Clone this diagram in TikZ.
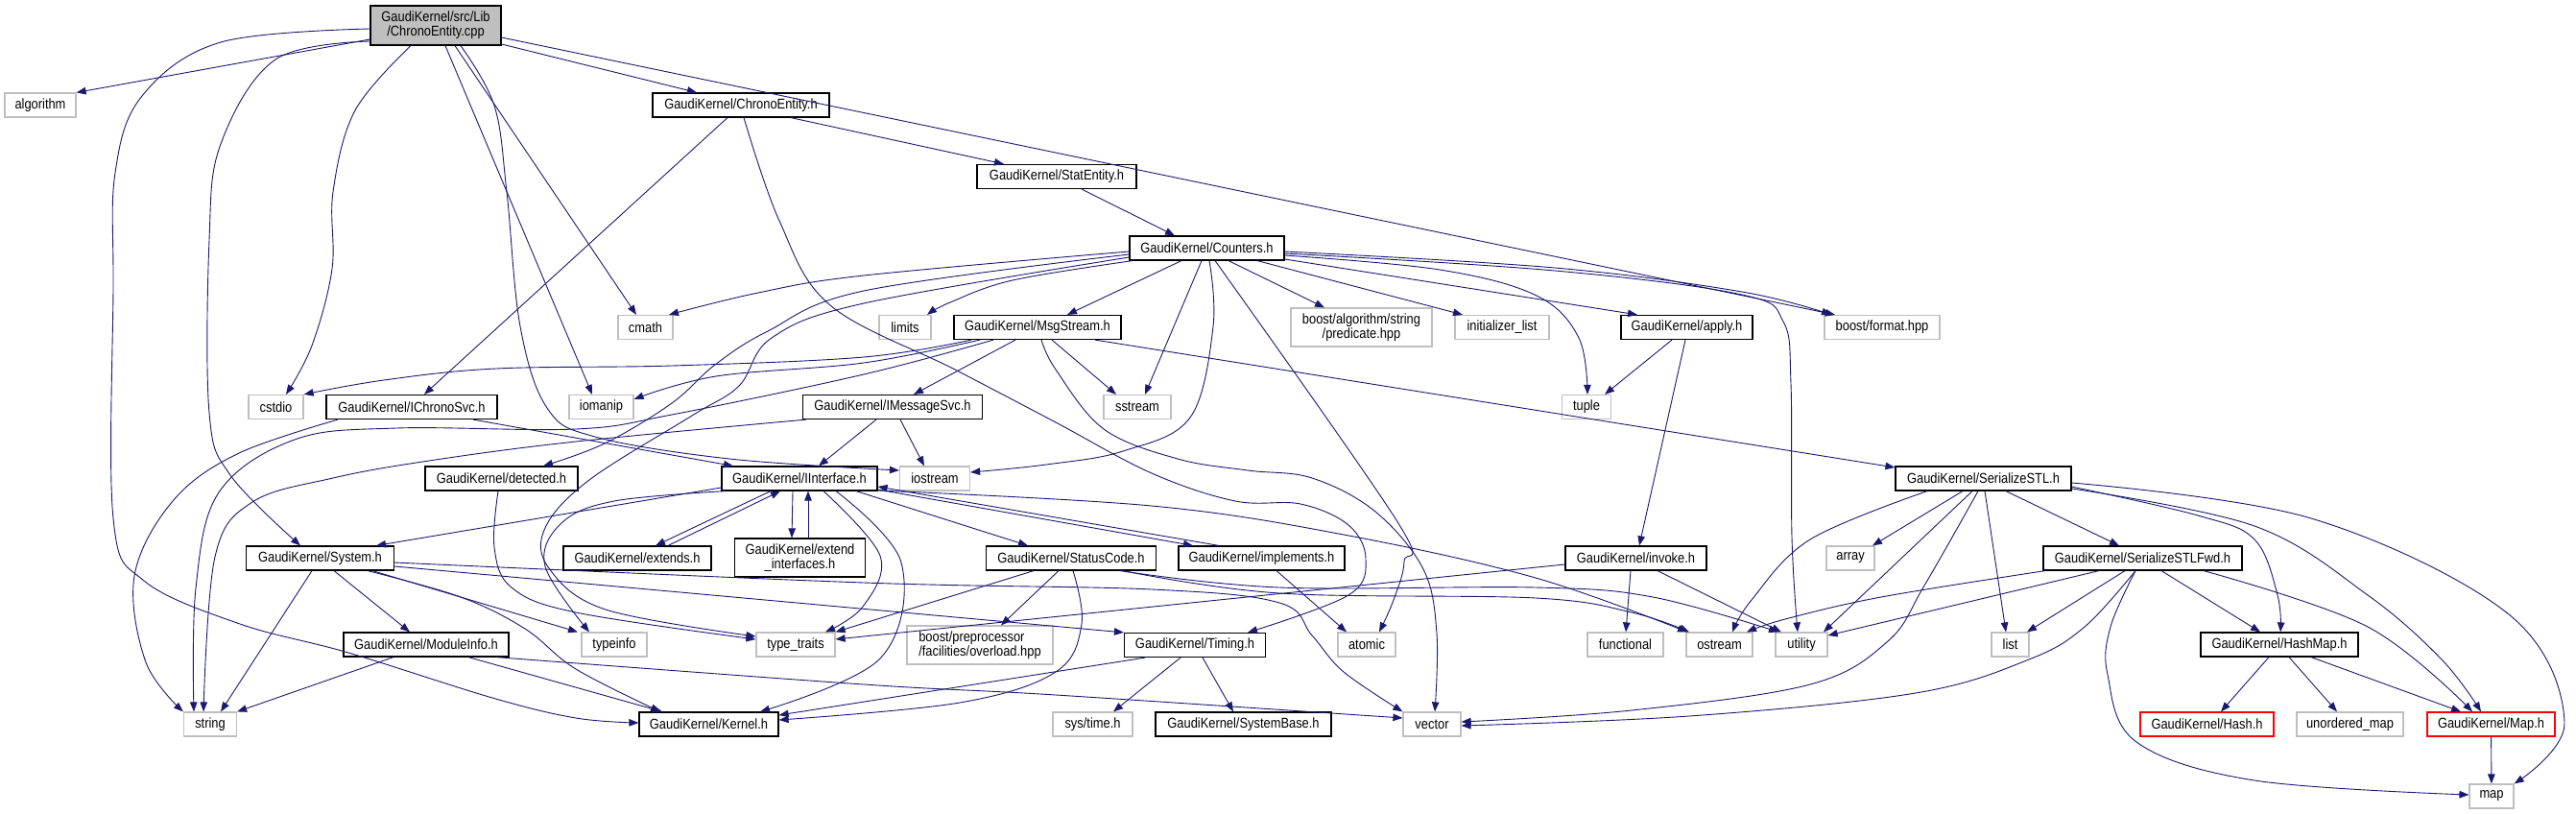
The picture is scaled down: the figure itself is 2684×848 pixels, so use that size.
\documentclass[tikz,border=0pt]{standalone}
\usepackage{fontspec}
\newfontfamily\gfont{Liberation Sans}[FakeStretch=0.87]
\usetikzlibrary{arrows.meta}
\definecolor{edgec}{HTML}{191970}
\definecolor{gbord}{HTML}{BFBFBF}
\begin{document}
\begin{tikzpicture}[x=1pt,y=-1pt,
  gbox/.style={draw=black, line width=1.2pt, fill=white, inner sep=0pt, minimum height=25pt, font=\gfont\fontsize{14.8}{14.7}\selectfont, align=center},
  sysbox/.style={gbox, draw=gbord},
  redbox/.style={gbox, draw=red},
  dep/.style={draw=edgec, line width=0.9pt, -{Triangle[length=10pt,width=7.5pt]}},
  sm/.style={smooth, tension=0.6}]
\useasboundingbox (0,0) rectangle (2684,848);
% nodes
\node[gbox, fill=gbord, minimum width=136pt, minimum height=41pt] (R) at (454,26.5) {GaudiKernel/src/Lib\\/ChronoEntity.cpp};
\node[sysbox, minimum width=74pt] (alg) at (42,109.5) {algorithm};
\node[gbox, minimum width=184pt] (CEh) at (772,109.5) {GaudiKernel/ChronoEntity.h};
\node[gbox, minimum width=166pt] (SE) at (1101,184) {GaudiKernel/StatEntity.h};
\node[gbox, minimum width=161pt] (CT) at (1257.5,258.5) {GaudiKernel/Counters.h};
\node[sysbox, minimum width=57pt] (cmath) at (672.5,341) {cmath};
\node[sysbox, minimum width=54pt] (limits) at (943,341) {limits};
\node[gbox, minimum width=174pt] (MS) at (1081,341) {GaudiKernel/MsgStream.h};
\node[sysbox, minimum width=147pt, minimum height=40pt] (pred) at (1418.5,341) {boost/algorithm/string\\/predicate.hpp};
\node[sysbox, minimum width=98pt] (ilist) at (1565,341) {initializer\_list};
\node[gbox, minimum width=137pt] (apply) at (1757.5,341) {GaudiKernel/apply.h};
\node[sysbox, minimum width=120pt] (fmt) at (1961,341) {boost/format.hpp};
\node[sysbox, minimum width=57pt] (cstdio) at (287.5,424) {cstdio};
\node[gbox, minimum width=178pt] (ICS) at (429,424) {GaudiKernel/IChronoSvc.h};
\node[sysbox, minimum width=67pt] (iomanip) at (626.5,424) {iomanip};
\node[gbox, minimum width=187pt] (IMS) at (930,424) {GaudiKernel/IMessageSvc.h};
\node[sysbox, minimum width=70pt] (sstream) at (1185,424) {sstream};
\node[sysbox, minimum width=51pt] (tuple) at (1653,424) {tuple};
\node[gbox, minimum width=159pt] (det) at (522.5,498.5) {GaudiKernel/detected.h};
\node[gbox, minimum width=162pt] (II) at (833,498.5) {GaudiKernel/IInterface.h};
\node[sysbox, minimum width=73pt] (iostream) at (974,498.5) {iostream};
\node[gbox, minimum width=183pt] (SSTL) at (2066.5,498.5) {GaudiKernel/SerializeSTL.h};
\node[gbox, minimum width=154pt] (Sys) at (333.5,581.5) {GaudiKernel/System.h};
\node[gbox, minimum width=154pt] (ext) at (664,581.5) {GaudiKernel/extends.h};
\node[gbox, minimum width=136pt, minimum height=40pt] (exti) at (833.5,581) {GaudiKernel/extend\\\_interfaces.h};
\node[gbox, minimum width=177pt] (SC) at (1116,581.5) {GaudiKernel/StatusCode.h};
\node[gbox, minimum width=173pt] (impl) at (1314.5,581.5) {GaudiKernel/implements.h};
\node[gbox, minimum width=147pt] (inv) at (1704.5,581.5) {GaudiKernel/invoke.h};
\node[sysbox, minimum width=50pt] (array) at (1928,581.5) {array};
\node[gbox, minimum width=207pt] (SSTLF) at (2232.5,581.5) {GaudiKernel/SerializeSTLFwd.h};
\node[gbox, minimum width=172pt] (MI) at (444,671.5) {GaudiKernel/ModuleInfo.h};
\node[sysbox, minimum width=68pt] (typeinfo) at (640,671.5) {typeinfo};
\node[sysbox, minimum width=82pt] (tt) at (829,671.5) {type\_traits};
\node[sysbox, minimum width=152pt, minimum height=40pt, align=left] (ovl) at (1021,672) {boost/preprocessor\\/facilities/overload.hpp};
\node[gbox, minimum width=147pt] (Tim) at (1245,672) {GaudiKernel/Timing.h};
\node[sysbox, minimum width=60pt] (atomic) at (1424,671.5) {atomic};
\node[sysbox, minimum width=79pt] (func) at (1693.5,671.5) {functional};
\node[sysbox, minimum width=69pt] (ostream) at (1791.5,671.5) {ostream};
\node[sysbox, minimum width=54pt] (utility) at (1877,671.5) {utility};
\node[sysbox, minimum width=39pt] (list) at (2094.5,671.5) {list};
\node[gbox, minimum width=164pt] (HM) at (2375,671.5) {GaudiKernel/HashMap.h};
\node[sysbox, minimum width=55pt] (string) at (219,754.5) {string};
\node[gbox, minimum width=145pt] (Kern) at (738.5,754.5) {GaudiKernel/Kernel.h};
\node[sysbox, minimum width=83pt] (systime) at (1138.5,754.5) {sys/time.h};
\node[gbox, minimum width=183pt] (SB) at (1295.5,754.5) {GaudiKernel/SystemBase.h};
\node[sysbox, minimum width=60pt] (vector) at (1492,754.5) {vector};
\node[redbox, minimum width=139pt] (Hash) at (2299.5,754.5) {GaudiKernel/Hash.h};
\node[sysbox, minimum width=111pt] (umap) at (2448.5,754.5) {unordered\_map};
\node[redbox, minimum width=133pt] (Map) at (2595.5,754.5) {GaudiKernel/Map.h};
\node[sysbox, minimum width=46pt] (map) at (2596,829.5) {map};
% edges from ChronoEntity.cpp
\draw[dep] (R.west |- 0,41) -- (alg.north east);
\draw[dep] plot[sm] coordinates {(R.west |- 0,30) (230,44) (148,100) (120,180) (118,300) (118,540) (150,605) (250,650) (363,680) (513,727) (600,748) (Kern.west |- 0,753)};
\draw[dep] plot[sm] coordinates {(R.west |- 0,43) (287,62) (230,150) (218,250) (218,430) (240,495) (Sys.north -| 313,0)};
\draw[dep] plot[sm] coordinates {(R.south -| 428,0) (370,115) (347,200) (346,280) (325,360) (cstdio.north -| 298,0)};
\draw[dep] (R.south -| 464,0) -- (iomanip.north -| 617,0);
\draw[dep] (R.south -| 474,0) -- (cmath.north -| 663,0);
\draw[dep] plot[sm] coordinates {(R.south -| 480,0) (515,110) (528,200) (542,340) (570,425) (620,455) (760,478) (iostream.west |- 0,490)};
\draw[dep] (R.east |- 0,46) -- (CEh.north -| 726,0);
\draw[dep] (R.east |- 0,39) -- (fmt.north -| 1912,0);
% ChronoEntity.h
\draw[dep] (CEh.south -| 824,0) -- (SE.north -| 1046,0);
\draw[dep] (CEh.south -| 758,0) -- (ICS.north -| 442,0);
\draw[dep] plot[sm] coordinates {(CEh.south -| 775,0) (812,230) (865,318) (995,385) (1100,440) (1200,493) (1287,522) (1355,525) (1405,547) (1423,582) (1405,620) (Tim.north -| 1300,0)};
% StatEntity
\draw[dep] (SE.south -| 1127,0) -- (CT.north -| 1224,0);
% Counters
\draw[dep] plot[sm] coordinates {(CT.west |- 0,262) (900,287) (790,305) (cmath.north -| 697,0)};
\draw[dep] plot[sm] coordinates {(CT.south -| 1180,0) (1055,292) (990,315) (limits.north -| 966,0)};
\draw[dep] (CT.south -| 1231,0) -- (MS.north -| 1112,0);
\draw[dep] (CT.south -| 1252,0) -- (sstream.north -| 1193,0);
\draw[dep] plot[sm] coordinates {(CT.south -| 1260,0) (1264,340) (1240,435) (1170,470) (1090,484) (iostream.east |- 0,492)};
\draw[dep] plot[sm] coordinates {(CT.south -| 1266,0) (1455,542) (1463,585) (1452,625) (atomic.north -| 1437,0)};
\draw[dep] (CT.south -| 1280,0) -- (pred.north -| 1380,0);
\draw[dep] (CT.south -| 1310,0) -- (ilist.north -| 1524,0);
\draw[dep] (CT.east |- 0,270) -- (apply.north -| 1706,0);
\draw[dep] plot[sm] coordinates {(CT.east |- 0,266) (1500,281) (1601,308) (1645,352) (tuple.north -| 1654,0)};
\draw[dep] plot[sm] coordinates {(CT.east |- 0,262) (1620,279) (1815,304) (fmt.north -| 1908,0)};
\draw[dep] plot[sm] coordinates {(CT.east |- 0,264) (1620,282) (1815,307) (1858,335) (1866,400) (1867,560) (utility.north -| 1873,0)};
\draw[dep] plot[sm] coordinates {(CT.west |- 0,265) (900,303) (800,345) (745,380) (700,420) (630,462) (det.north -| 566,0)};
\draw[dep] plot[sm] coordinates {(CT.west |- 0,268) (900,316) (804,352) (770,402) (721,433) (614,500) (568,550) (572,592) (631,635) (tt.west |- 0,663)};
% MsgStream
\draw[dep] plot[sm] coordinates {(MS.south -| 1012,0) (900,372) (700,381) (517,384) (400,396) (cstdio.north east)};
\draw[dep] plot[sm] coordinates {(MS.south -| 1021,0) (900,378) (746,392) (iomanip.east |- 0,416)};
\draw[dep] plot[sm] coordinates {(MS.south -| 1035,0) (900,390) (700,432) (600,447) (413,446) (307,458) (228,513) (204,613) (string.north -| 202,0)};
\draw[dep] (MS.south -| 1058,0) -- (IMS.north -| 952,0);
\draw[dep] plot[sm] coordinates {(MS.south -| 1085,0) (1100,385) (1150,447) (1227,478) (1300,490) (1367,498) (1433,533) (1483,593) (1497,660) (vector.north -| 1495,0)};
\draw[dep] (MS.south -| 1096,0) -- (sstream.north -| 1163,0);
\draw[dep] (MS.south -| 1141,0) -- (SSTL.west |- 0,487);
% IChronoSvc
\draw[dep] (ICS.south -| 493,0) -- (II.north -| 764,0);
\draw[dep] plot[sm] coordinates {(ICS.south -| 352,0) (247,473) (180,522) (140,600) (152,690) (string.north west)};
% IMessageSvc
\draw[dep] (IMS.south -| 913,0) -- (II.north -| 853,0);
\draw[dep] (IMS.south -| 938,0) -- (iostream.north -| 963,0);
\draw[dep] plot[sm] coordinates {(IMS.south -| 840,0) (600,460) (447,480) (347,498) (263,523) (224,580) (string.north -| 212,0)};
% detected
\draw[dep] plot[sm] coordinates {(det.south -| 519,0) (515,570) (533,612) (600,638) (tt.west |- 0,666)};
% IInterface
\draw[dep] (II.west |- 0,508) -- (Sys.north -| 392,0);
\draw[dep] plot[sm] coordinates {(II.south -| 756,0) (640,522) (585,545) (568,590) (typeinfo.north -| 614,0)};
\draw[dep] plot[sm] coordinates {(II.south -| 858,0) (917,579) (899,632) (tt.north -| 860,0)};
\draw[dep] plot[sm] coordinates {(II.south -| 871,0) (939,586) (917,686) (Kern.north -| 792,0)};
\draw[dep] (II.south -| 803,0) -- (ext.north -| 683,0);
\draw[dep] (ext.north -| 696,0) -- (II.south -| 813,0);
\draw[dep] (II.south -| 826,0) -- (exti.north -| 825,0);
\draw[dep] (exti.north -| 842,0) -- (II.south -| 842,0);
\draw[dep] (II.south -| 892,0) -- (SC.north -| 1071,0);
\draw[dep] (II.east |- 0,510) -- (impl.north -| 1243,0);
\draw[dep] (impl.north -| 1270,0) -- (II.east |- 0,507);
\draw[dep] plot[sm] coordinates {(II.east |- 0,511) (1200,527) (1400,557) (1600,602) (ostream.north -| 1758,0)};
% System
\draw[dep] (Sys.south -| 325,0) -- (string.north -| 230,0);
\draw[dep] (Sys.south -| 348,0) -- (MI.north -| 427,0);
\draw[dep] plot[sm] coordinates {(Sys.south -| 383,0) (480,622) (547,655) (600,697) (Kern.north -| 688,0)};
\draw[dep] (Sys.south -| 388,0) -- (typeinfo.north -| 602,0);
\draw[dep] (Sys.east |- 0,590) -- (Tim.north west);
\draw[dep] plot[sm] coordinates {(Sys.east |- 0,586) (900,607) (1200,614) (1333,628) (1367,662) (1400,700) (vector.north west)};
% ModuleInfo
\draw[dep] (MI.south -| 410,0) -- (string.north east);
\draw[dep] (MI.south -| 488,0) -- (Kern.north -| 690,0);
\draw[dep] plot[sm] coordinates {(MI.south -| 517,0) (900,713) (1100,724) (vector.west |- 0,748)};
% StatusCode
\draw[dep] (SC.south -| 1077,0) -- (tt.north east);
\draw[dep] (SC.south -| 1103,0) -- (ovl.north -| 1043,0);
\draw[dep] plot[sm] coordinates {(SC.south -| 1118,0) (1127,650) (1100,700) (1000,732) (Kern.east |- 0,750)};
\draw[dep] plot[sm] coordinates {(SC.south -| 1167,0) (1333,612) (1600,612) (1722,622) (utility.north -| 1853,0)};
\draw[dep] plot[sm] coordinates {(SC.south -| 1170,0) (1333,618) (1600,623) (1700,638) (ostream.north -| 1760,0)};
% implements
\draw[dep] (impl.south -| 1330,0) -- (atomic.north -| 1403,0);
% Timing
\draw[dep] (Tim.south -| 1193,0) -- (Kern.east |- 0,745);
\draw[dep] (Tim.south -| 1230,0) -- (systime.north -| 1160,0);
\draw[dep] (Tim.south -| 1253,0) -- (SB.north -| 1285,0);
% apply
\draw[dep] (apply.south -| 1742,0) -- (tuple.north -| 1672,0);
\draw[dep] (apply.south -| 1756,0) -- (inv.north -| 1708,0);
% invoke
\draw[dep] (inv.west |- 0,588) -- (tt.east |- 0,666);
\draw[dep] (inv.south -| 1699,0) -- (func.north -| 1694,0);
\draw[dep] (inv.south -| 1727,0) -- (utility.north -| 1856,0);
% SerializeSTL
\draw[dep] plot[sm] coordinates {(SSTL.south -| 2008,0) (1886,562) (1825,625) (ostream.north -| 1805,0)};
\draw[dep] (SSTL.south -| 2045,0) -- (array.north -| 1951,0);
\draw[dep] (SSTL.south -| 2055,0) -- (utility.north -| 1900,0);
\draw[dep] plot[sm] coordinates {(SSTL.south -| 2061,0) (2005,610) (1967,668) (1886,713) (1700,740) (vector.east |- 0,752)};
\draw[dep] (SSTL.south -| 2068,0) -- (list.north -| 2090,0);
\draw[dep] (SSTL.south -| 2090,0) -- (SSTLF.north -| 2208,0);
\draw[dep] plot[sm] coordinates {(SSTL.east |- 0,507) (2290,537) (2349,562) (2373,620) (HM.north -| 2376,0)};
\draw[dep] plot[sm] coordinates {(SSTL.east |- 0,509) (2349,548) (2467,620) (2544,687) (Map.north -| 2585,0)};
\draw[dep] plot[sm] coordinates {(SSTL.east |- 0,503) (2408,540) (2614,640) (2672,753) (map.north east)};
% SerializeSTLFwd
\draw[dep] plot[sm] coordinates {(SSTLF.south -| 2131,0) (1960,622) (1860,645) (ostream.north -| 1820,0)};
\draw[dep] (SSTLF.south -| 2187,0) -- (utility.east |- 0,662);
\draw[dep] (SSTLF.south -| 2214,0) -- (list.north -| 2112,0);
\draw[dep] plot[sm] coordinates {(SSTLF.south -| 2225,0) (2172,653) (2114,687) (1996,722) (1760,746) (vector.east |- 0,756)};
\draw[dep] plot[sm] coordinates {(SSTLF.south -| 2225,0) (2199,653) (2196,703) (2226,773) (2349,813) (map.west |- 0,828)};
\draw[dep] (SSTLF.south -| 2252,0) -- (HM.north -| 2355,0);
\draw[dep] plot[sm] coordinates {(SSTLF.south -| 2296,0) (2467,653) (Map.north -| 2576,0)};
% HashMap
\draw[dep] (HM.south -| 2364,0) -- (Hash.north -| 2314,0);
\draw[dep] (HM.south -| 2385,0) -- (umap.north -| 2435,0);
\draw[dep] (HM.south -| 2408,0) -- (Map.north -| 2564,0);
\draw[dep] (Map) -- (map);
\end{tikzpicture}
\end{document}
